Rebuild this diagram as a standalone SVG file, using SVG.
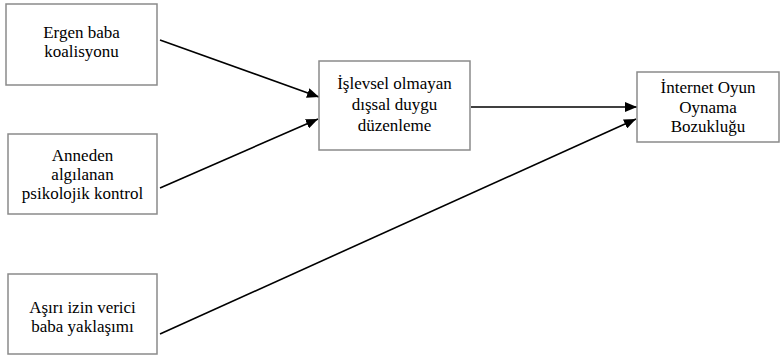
<svg xmlns="http://www.w3.org/2000/svg" width="784" height="358" viewBox="0 0 784 358">
<style>
.box{fill:#fff;stroke:#8a8a8a;stroke-width:1.5}
.t{font-family:"Liberation Serif","DejaVu Serif","Times New Roman",serif;font-size:17px;fill:#000;text-anchor:middle}
.c{stroke:#000;stroke-width:1.6;fill:none;marker-end:url(#ah)}
</style>
<defs>
<marker id="ah" viewBox="0 0 12 10" refX="12" refY="5" markerWidth="12" markerHeight="10" markerUnits="userSpaceOnUse" orient="auto">
<path d="M0,0 L12,5 L0,10 Z" fill="#000"/>
</marker>
</defs>
<rect width="784" height="358" fill="#fff"/>
<g id="connectors">
<line class="c" x1="160" y1="40" x2="319" y2="97"/>
<line class="c" x1="160" y1="188" x2="318" y2="119"/>
<line class="c" x1="471" y1="107" x2="637" y2="107"/>
<line class="c" x1="160" y1="334" x2="636" y2="119"/>
</g>
<g id="n1">
<rect class="box" x="6" y="4" width="151" height="81"/>
<text class="t" x="81.5" y="38">Ergen baba</text>
<text class="t" x="81.5" y="57">koalisyonu</text>
</g>
<g id="n2">
<rect class="box" x="8" y="134" width="149" height="80"/>
<text class="t" x="82.5" y="161">Anneden</text>
<text class="t" x="82.5" y="180">algılanan</text>
<text class="t" x="82.5" y="199">psikolojik kontrol</text>
</g>
<g id="n3">
<rect class="box" x="8" y="274" width="149" height="80"/>
<text class="t" x="82.5" y="313">Aşırı izin verici</text>
<text class="t" x="82.5" y="332">baba yaklaşımı</text>
</g>
<g id="n4">
<rect class="box" x="319" y="61" width="151" height="89"/>
<text class="t" x="394.5" y="89">İşlevsel olmayan</text>
<text class="t" x="394.5" y="110">dışsal duygu</text>
<text class="t" x="394.5" y="131">düzenleme</text>
</g>
<g id="n5">
<rect class="box" x="637" y="72" width="142" height="70"/>
<text class="t" x="708" y="93">İnternet Oyun</text>
<text class="t" x="708" y="113">Oynama</text>
<text class="t" x="708" y="132">Bozukluğu</text>
</g>
</svg>
